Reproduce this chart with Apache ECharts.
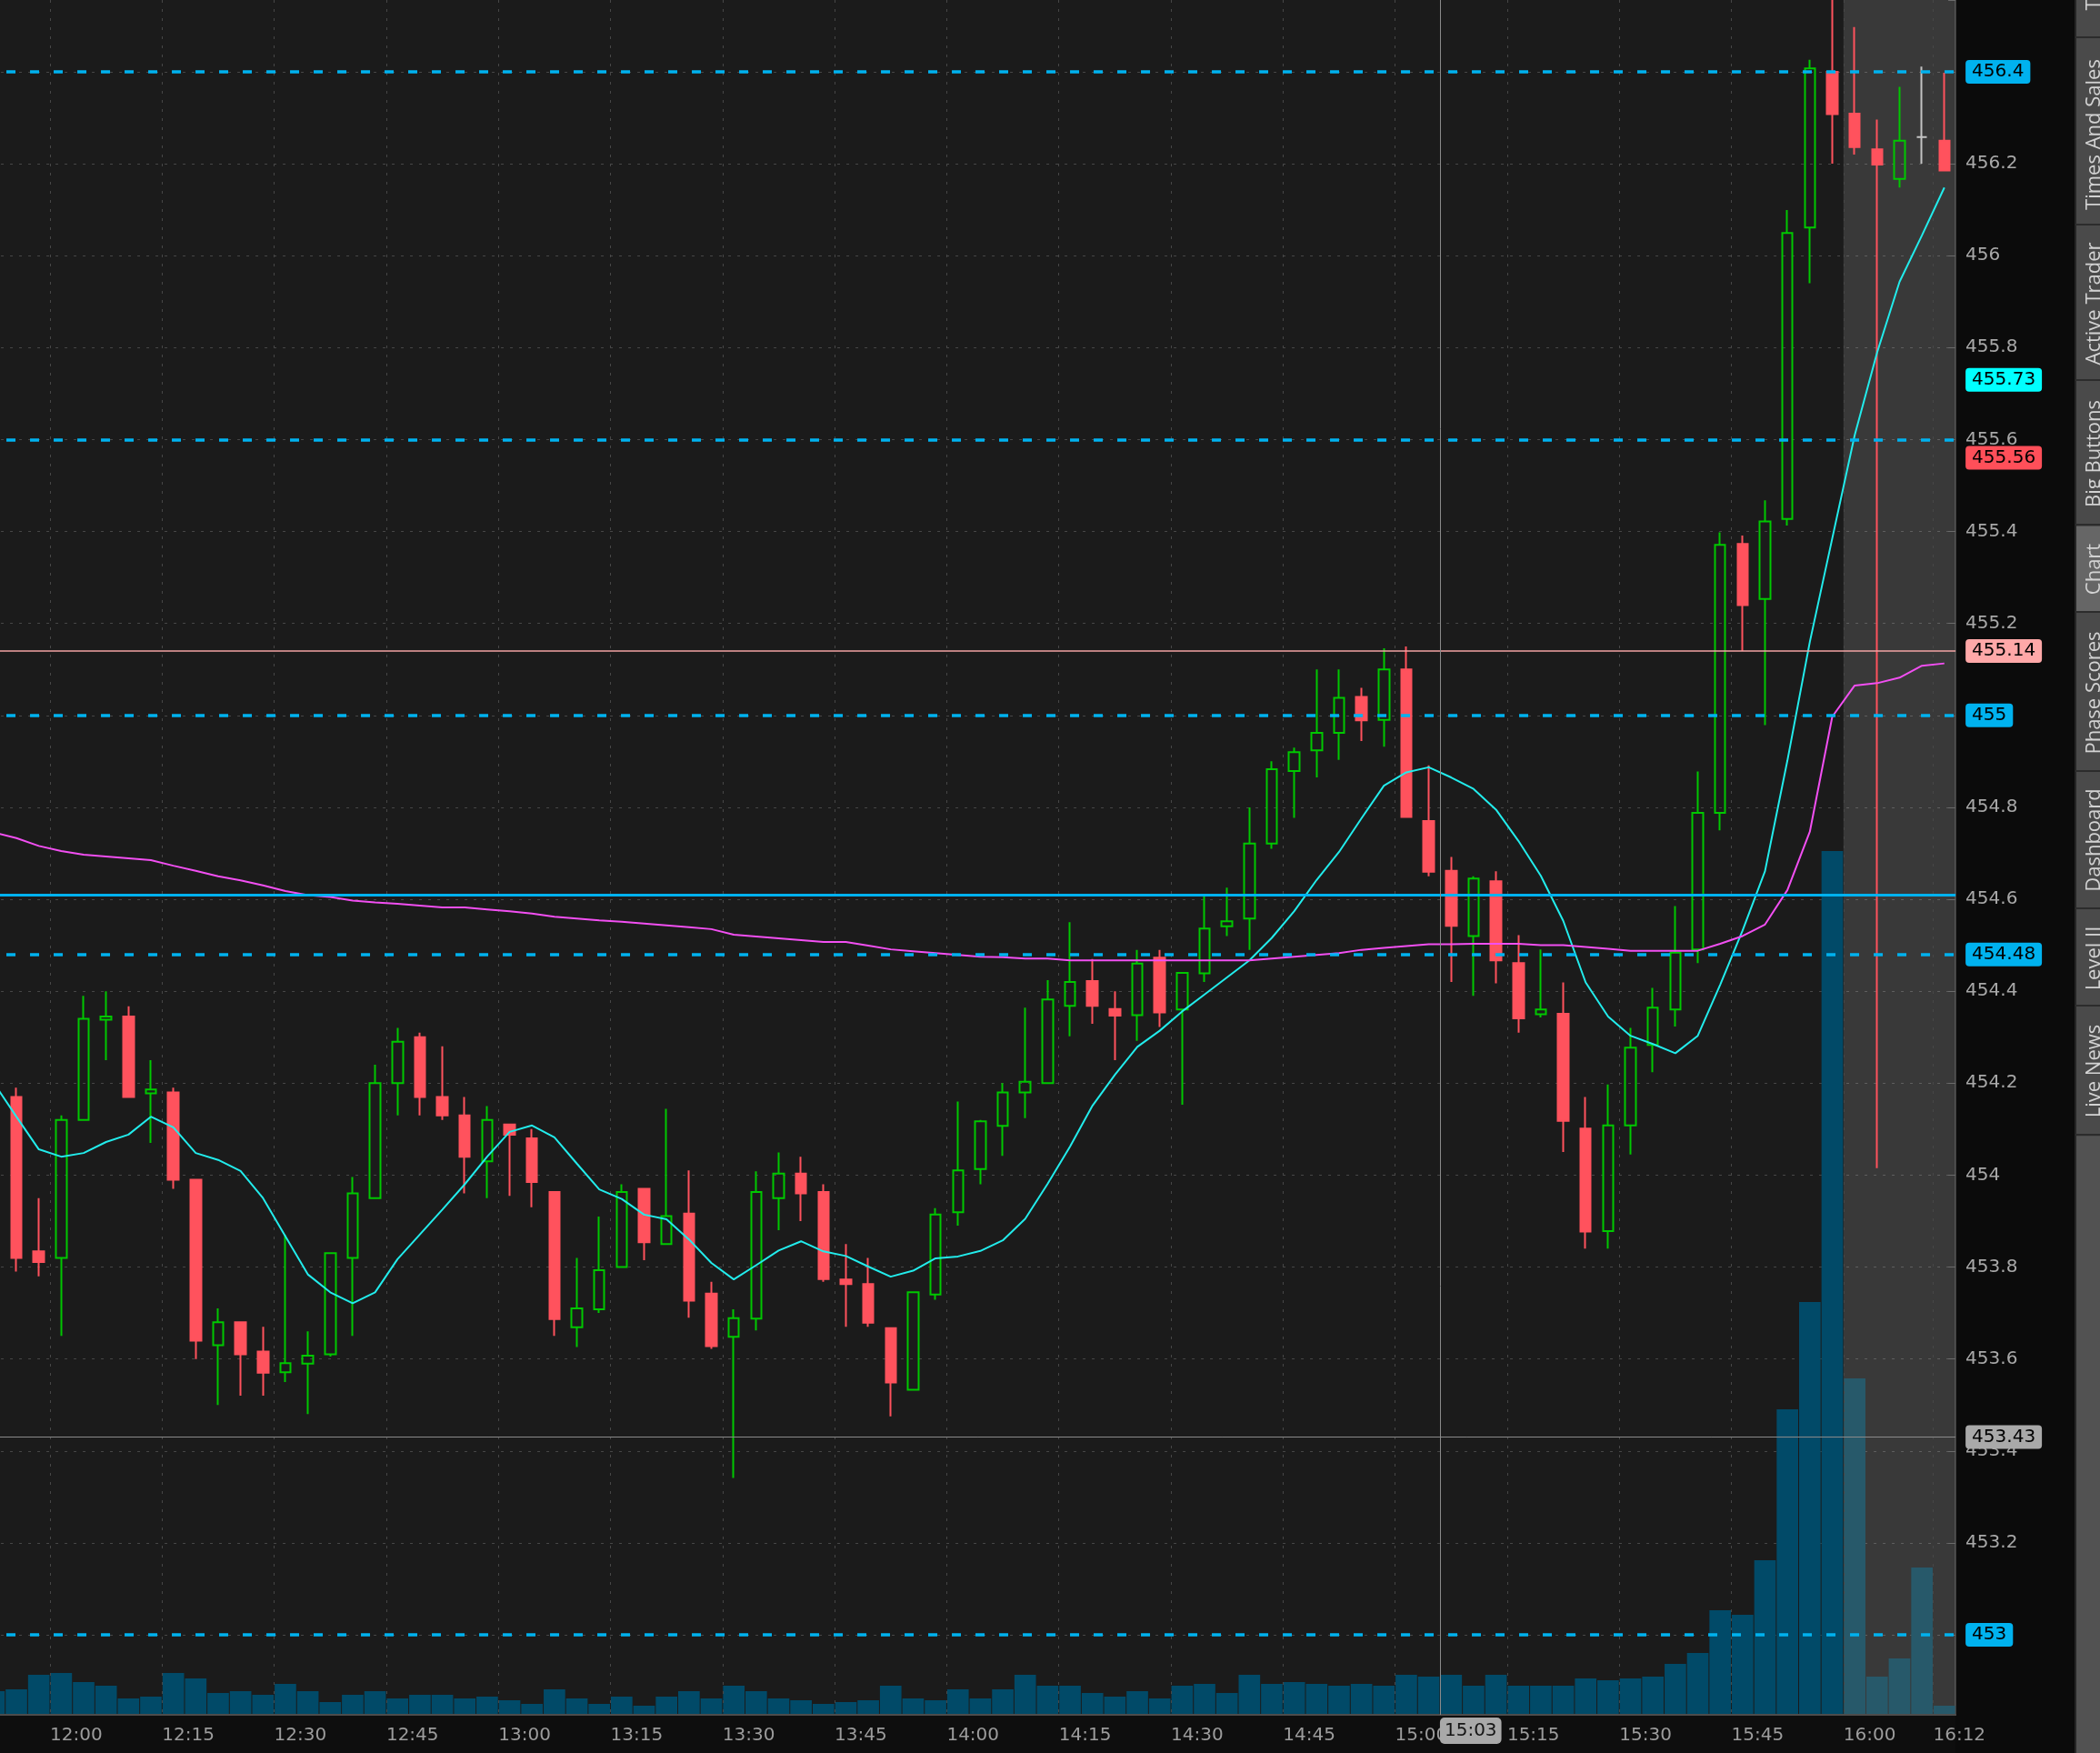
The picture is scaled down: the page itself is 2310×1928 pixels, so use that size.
<!DOCTYPE html>
<html>
<head>
<meta charset="utf-8">
<script src="https://cdn.jsdelivr.net/npm/echarts@6/dist/echarts.min.js"></script>
<style>
html,body{margin:0;padding:0;background:#1b1b1b;overflow:hidden;}
#c{width:2310px;height:1928px;}
</style>
</head>
<body>
<div id="c"></div>
<script>
// ---------------- DATA ----------------
const times = [
  '11:51','11:54','11:57',
  '12:00','12:03','12:06','12:09','12:12','12:15','12:18','12:21','12:24','12:27','12:30','12:33','12:36','12:39','12:42','12:45','12:48','12:51','12:54','12:57',
  '13:00','13:03','13:06','13:09','13:12','13:15','13:18','13:21','13:24','13:27','13:30','13:33','13:36','13:39','13:42','13:45','13:48','13:51','13:54','13:57',
  '14:00','14:03','14:06','14:09','14:12','14:15','14:18','14:21','14:24','14:27','14:30','14:33','14:36','14:39','14:42','14:45','14:48','14:51','14:54','14:57',
  '15:00','15:03','15:06','15:09','15:12','15:15','15:18','15:21','15:24','15:27','15:30','15:33','15:36','15:39','15:42','15:45','15:48','15:51','15:54','15:57',
  '16:00','16:03','16:06','16:09','16:12'
];
const opens = [
  null,454.17,453.834,
  453.82,454.12,454.338,454.345,454.178,454.18,453.99,453.63,453.68,453.616,453.571,453.59,453.61,453.82,453.95,454.20,454.30,454.17,454.13,454.03,
  454.11,454.08,453.963,453.669,453.708,453.80,453.97,453.85,453.916,453.742,453.648,453.688,453.95,454.003,453.963,453.773,453.763,453.667,453.533,453.74,
  453.919,454.013,454.107,454.18,454.20,454.368,454.422,454.361,454.348,454.473,454.36,454.439,454.541,454.558,454.721,454.879,454.924,454.962,455.04,454.99,
  455.10,454.77,454.662,454.52,454.639,454.461,454.35,454.351,454.101,453.878,454.108,454.283,454.36,454.491,454.788,455.373,455.253,455.427,456.061,456.40,
  456.309,456.231,456.167,456.258,456.25
];
const highs = [
  null,454.19,453.95,
  454.13,454.39,454.40,454.367,454.25,454.19,453.99,453.71,453.68,453.67,453.87,453.66,453.83,453.996,454.24,454.32,454.31,454.28,454.17,454.15,
  454.11,454.10,453.963,453.82,453.91,453.98,453.97,454.144,454.01,453.768,453.708,454.008,454.049,454.04,453.98,453.85,453.82,453.667,453.745,453.928,
  454.16,454.12,454.20,454.364,454.424,454.55,454.47,454.40,454.49,454.49,454.44,454.61,454.625,454.80,454.90,454.93,455.10,455.10,455.06,455.146,
  455.15,454.891,454.692,454.65,454.661,454.522,454.491,454.419,454.17,454.197,454.32,454.407,454.585,454.878,455.398,455.391,455.468,456.099,456.426,456.60,
  456.497,456.296,456.367,456.411,456.398
];
const lows = [
  null,453.79,453.78,
  453.65,454.12,454.25,454.17,454.07,453.97,453.60,453.50,453.52,453.52,453.55,453.48,453.605,453.65,453.95,454.13,454.13,454.12,453.96,453.95,
  453.955,453.93,453.65,453.626,453.70,453.80,453.815,453.85,453.69,453.622,453.341,453.662,453.88,453.90,453.768,453.67,453.67,453.475,453.531,453.729,
  453.89,453.98,454.042,454.124,454.20,454.302,454.329,454.25,454.292,454.322,454.153,454.42,454.52,454.49,454.71,454.777,454.865,454.903,454.944,454.932,
  454.779,454.65,454.42,454.39,454.417,454.31,454.343,454.05,453.84,453.84,454.045,454.224,454.323,454.461,454.75,455.14,454.979,455.413,455.94,456.20,
  456.22,454.015,456.148,456.20,456.185
];
const closes = [
  null,453.82,453.811,
  454.12,454.34,454.345,454.17,454.186,453.99,453.64,453.68,453.61,453.57,453.591,453.607,453.83,453.96,454.20,454.29,454.17,454.13,454.04,454.12,
  454.088,453.985,453.687,453.71,453.793,453.963,453.854,453.911,453.727,453.628,453.689,453.963,454.003,453.96,453.774,453.763,453.679,453.549,453.745,453.914,
  454.01,454.117,454.18,454.203,454.382,454.42,454.368,454.347,454.46,454.354,454.44,454.536,454.552,454.721,454.883,454.92,454.962,455.038,454.989,455.10,
  454.779,454.66,454.542,454.645,454.467,454.341,454.36,454.118,453.877,454.108,454.277,454.364,454.484,454.788,455.371,455.24,455.422,456.049,456.407,456.308,
  456.236,456.198,456.25,456.258,456.185
];
// volume, thousands of shares
const volumes = [
  130,140,220,
  230,180,160,90,100,230,200,120,130,110,170,130,70,110,130,90,110,110,90,100,
  80,60,140,90,60,100,50,100,130,90,160,130,90,80,60,70,80,160,90,80,
  140,90,140,220,160,160,120,100,130,90,160,170,120,220,170,180,170,160,170,160,
  220,210,220,160,220,160,160,160,200,190,200,210,280,340,575,550,850,1680,2270,4750,
  1850,210,310,810,50
];
// fast moving average (cyan)
const fastAvg = [
  454.2,454.127,454.056,
  454.04,454.048,454.072,454.088,454.127,454.104,454.048,454.033,454.009,453.95,453.867,453.784,453.745,453.721,453.745,453.817,453.871,453.925,453.98,454.04,
  454.094,454.108,454.082,454.025,453.969,453.948,453.914,453.904,453.86,453.809,453.773,453.804,453.836,453.856,453.834,453.824,453.801,453.779,453.792,453.819,
  453.823,453.835,453.858,453.905,453.981,454.062,454.151,454.218,454.279,454.314,454.356,454.393,454.43,454.467,454.516,454.574,454.642,454.703,454.776,454.847,
  454.876,454.887,454.865,454.84,454.795,454.727,454.651,454.553,454.419,454.345,454.303,454.285,454.265,454.303,454.414,454.532,454.661,454.902,455.16,455.385,
  455.609,455.789,455.943,456.044,456.148
];
// slow line (magenta)
const slowAvg = [
  454.745,454.733,454.716,
  454.705,454.697,454.693,454.689,454.685,454.673,454.662,454.650,454.641,454.630,454.618,454.609,454.605,454.597,454.593,454.590,454.586,454.582,454.582,454.578,
  454.574,454.569,454.562,454.558,454.554,454.551,454.547,454.543,454.539,454.535,454.523,454.519,454.515,454.511,454.507,454.507,454.499,454.491,454.487,454.483,
  454.479,454.475,454.474,454.471,454.471,454.467,454.467,454.467,454.467,454.467,454.467,454.467,454.467,454.467,454.471,454.475,454.479,454.483,454.490,454.494,
  454.498,454.502,454.502,454.503,454.503,454.503,454.500,454.500,454.496,454.492,454.488,454.488,454.488,454.488,454.503,454.520,454.545,454.620,454.747,454.997,
  455.065,455.070,455.082,455.108,455.113
];
const dashedLevels = [456.4, 455.6, 455.0, 454.48, 453.0];
const taggedDashed = [456.4, 455.0, 454.48, 453.0];
const solidLevels = [454.61];
const pinkLevels = [455.14];
const crossPrices = [453.43];
const fastTags = [455.73];
const lastTags = [455.56];
const crossTime = '15:06';
const crossTimeText = '15:03';
const afterHours = ['16:00', '16:15'];
const extraTimeLabels = ['16:12'];

// ---------------- CHART ----------------
const SLOT = 24.66;
const GRID_LEFT = 5.7 - SLOT; // first slot (11:51) starts left of the canvas
const boundaries = times.concat(['16:15']);
const CYAN = '#00b2ef';
const UP = '#00c800', DOWN = '#ff525d';
const FONT = 'DejaVu Sans';

const candleData = times.map((t, i) => {
  if (opens[i] == null) return '-';
  const v = [opens[i], closes[i], lows[i], highs[i]];
  if (opens[i] === closes[i]) {
    return {value: v, itemStyle: {color: '#c4c4c4', color0: '#c4c4c4', borderColor: '#c4c4c4', borderColor0: '#c4c4c4'}};
  }
  return v;
});
const ahIndex = times.indexOf(afterHours[0]);
const volData = volumes.map((v, i) => i >= ahIndex ? {value: v, itemStyle: {color: '#27596a'}} : v);

const fmtPrice = v => String(Number(Number(v).toFixed(2)));
function tag(v, bg) {
  return {show: true, position: 'end', distance: 11, formatter: fmtPrice(v), color: '#000',
    backgroundColor: bg, padding: [3, 7, 3, 7], borderRadius: 4, fontSize: 20, fontFamily: FONT};
}
const levelLines = [];
dashedLevels.forEach(v => levelLines.push({yAxis: v,
  lineStyle: {color: CYAN, width: 3.5, type: [10, 16]},
  label: taggedDashed.indexOf(v) >= 0 ? tag(v, CYAN) : {show: false}}));
solidLevels.forEach(v => levelLines.push({yAxis: v, lineStyle: {color: CYAN, width: 3, type: 'solid'}, label: {show: false}}));
pinkLevels.forEach(v => levelLines.push({yAxis: v, lineStyle: {color: '#f3a5a5', width: 1.5, type: 'solid'}, label: tag(v, '#ffa8a8')}));
crossPrices.forEach(v => levelLines.push({yAxis: v, lineStyle: {color: '#8a8a8a', width: 1, type: 'solid'}, label: tag(v, '#a9a9a9')}));
fastTags.forEach(v => levelLines.push({yAxis: v, lineStyle: {color: 'transparent', width: 0}, label: tag(v, '#00ffff')}));
lastTags.forEach(v => levelLines.push({yAxis: v, lineStyle: {color: 'transparent', width: 0}, label: tag(v, '#ff4f59')}));

function isTimeMark(value) {
  if (value === '16:15') return false;
  const m = Number(value.split(':')[1]);
  return m % 15 === 0 || extraTimeLabels.indexOf(value) >= 0;
}

const tabs = [
  {t: 'Trade', y: -18}, {t: 'Times And Sales', y: 148}, {t: 'Active Trader', y: 334},
  {t: 'Big Buttons', y: 499}, {t: 'Chart', y: 626}, {t: 'Phase Scores', y: 762},
  {t: 'Dashboard', y: 924}, {t: 'Level II', y: 1054}, {t: 'Live News', y: 1178}
];
const seps = [41, 247, 418, 577, 673, 848, 999, 1106, 1248];
const graphics = [
  {type: 'rect', z: -5, shape: {x: 2151, y: 0, width: 132, height: 1928}, style: {fill: '#0b0b0b'}},
  {type: 'rect', z: -5, shape: {x: 0, y: 1887, width: 2151, height: 41}, style: {fill: '#0e0e0e'}},
  {type: 'rect', z: 20, shape: {x: 2283, y: 0, width: 27, height: 1928}, style: {fill: '#4a4a4a'}},
  {type: 'rect', z: 20, shape: {x: 2283, y: 1250, width: 27, height: 678}, style: {fill: '#525252'}},
  {type: 'rect', z: 20, shape: {x: 2283, y: 579, width: 27, height: 94}, style: {fill: '#666666'}},
  {type: 'rect', z: 21, shape: {x: 2282, y: 0, width: 2, height: 1928}, style: {fill: '#262626'}}
];
seps.forEach(y => graphics.push({type: 'rect', z: 21, shape: {x: 2283, y: y - 1, width: 27, height: 2}, style: {fill: '#2c2c2c'}}));
tabs.forEach(tb => graphics.push({type: 'text', z: 22, x: 2304, y: tb.y, rotation: Math.PI / 2,
  style: {text: tb.t, fill: '#d2d2d2', font: '22px "Open Sans"', textAlign: 'center', textVerticalAlign: 'middle'}}));

const option = {
  backgroundColor: '#1b1b1b',
  animation: false,
  grid: [{left: GRID_LEFT, top: 0, width: SLOT * times.length, height: 1886,
    containLabel: false, outerBoundsMode: 'none'}],
  xAxis: [
    {type: 'category', data: times, gridIndex: 0, boundaryGap: true, show: false, position: 'bottom'},
    {type: 'category', data: boundaries, gridIndex: 0, boundaryGap: false, position: 'bottom', z: 3,
      axisLine: {show: true, lineStyle: {color: '#4c4c4c', width: 2}},
      axisTick: {show: false},
      axisLabel: {interval: (i, v) => isTimeMark(v), align: 'left', color: '#9c9c9c', fontSize: 20, fontFamily: FONT, margin: 13},
      splitLine: {show: true, interval: (i, v) => isTimeMark(v), lineStyle: {color: '#474747', width: 1, type: [3, 7]}}
    }
  ],
  yAxis: [
    {type: 'value', gridIndex: 0, position: 'right', min: 452.826, max: 456.556,
      splitNumber: 19, minInterval: 0.2, maxInterval: 0.2,
      axisLine: {show: true, lineStyle: {color: '#3a3a3a', width: 2}},
      axisTick: {show: true, inside: true, length: 8, lineStyle: {color: '#555'}},
      axisLabel: {margin: 11, color: '#a8a8a8', fontSize: 20, fontFamily: FONT,
        formatter: v => { const r = Math.round(v * 5) / 5; if (Math.abs(v - r) > 1e-4) return ''; return String(Number(r.toFixed(1))); }},
      splitLine: {show: true, showMinLine: false, showMaxLine: false, lineStyle: {color: '#474747', width: 1, type: [3, 7]}}
    },
    {type: 'value', gridIndex: 0, min: 0, max: 9430, show: false, splitLine: {show: false}}
  ],
  series: [
    {type: 'bar', name: 'Volume', xAxisIndex: 0, yAxisIndex: 1, data: volData, barCategoryGap: '4%',
      itemStyle: {color: '#014a68'}, silent: true},
    {type: 'line', name: 'after-hours', xAxisIndex: 1, yAxisIndex: 0, data: [], clip: false, silent: true,
      markArea: {silent: true, z: 1, itemStyle: {color: 'rgba(255,255,255,0.135)'},
        data: [[{xAxis: afterHours[0]}, {xAxis: afterHours[1]}]]},
      markLine: {silent: true, symbol: ['none', 'none'], z: 6,
        data: [{xAxis: crossTime, lineStyle: {color: '#8a8a8a', width: 1, type: 'solid'},
          label: {show: true, position: 'start', formatter: crossTimeText, align: 'left', verticalAlign: 'top', distance: 3,
            color: '#151515', backgroundColor: '#a9a9a9', padding: [5, 5, 4, 5], borderRadius: 5, fontSize: 20, fontFamily: FONT}}]}
    },
    {type: 'candlestick', name: 'Price', xAxisIndex: 0, yAxisIndex: 0, data: candleData, barWidth: 12,
      itemStyle: {color: 'transparent', color0: DOWN, borderColor: UP, borderColor0: DOWN, borderWidth: 2}},
    {type: 'line', name: 'Fast', xAxisIndex: 0, yAxisIndex: 0, data: fastAvg, symbol: 'none', z: 4,
      lineStyle: {color: '#22ecec', width: 2}},
    {type: 'line', name: 'Slow', xAxisIndex: 0, yAxisIndex: 0, data: slowAvg, symbol: 'none', z: 4,
      lineStyle: {color: '#f24ff2', width: 2}},
    {type: 'line', name: 'levels', xAxisIndex: 0, yAxisIndex: 0, data: [], clip: false, silent: true,
      markLine: {silent: true, symbol: ['none', 'none'], z: 5, data: levelLines}}
  ],
  graphic: graphics
};

const chart = echarts.init(document.getElementById('c'), null, {renderer: 'canvas', width: 2310, height: 1928});
chart.setOption(option);
</script>
</body>
</html>
